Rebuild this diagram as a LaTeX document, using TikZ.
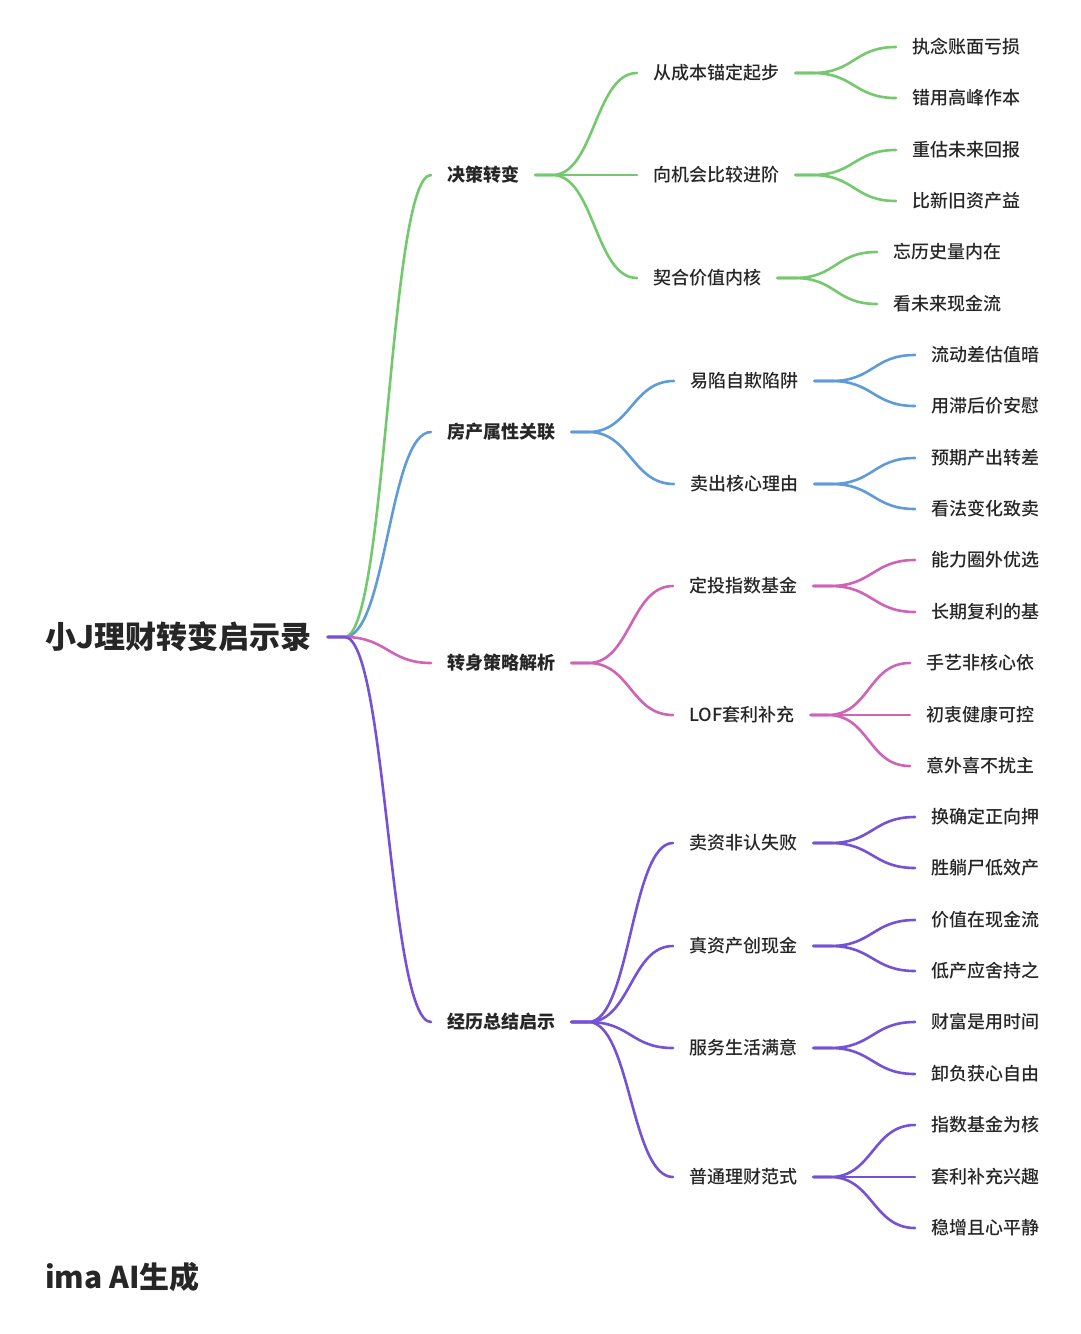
\documentclass[tikz,border=0pt]{standalone}
\usepackage{fontspec}
\setmainfont{Noto Sans CJK SC}
\newfontfamily\medfont{Noto Sans CJK SC Medium}
\usepackage{xcolor}
\usetikzlibrary{positioning}
\definecolor{mmgreen}{RGB}{116,201,110}
\definecolor{mmblue}{RGB}{95,155,216}
\definecolor{mmpink}{RGB}{208,98,184}
\definecolor{mmpurple}{RGB}{116,82,214}

\begin{document}
\begin{tikzpicture}[x=1pt,y=-1pt,
    every node/.style={inner sep=0pt,anchor=west,text=black!85},
    rootnode/.style={font=\fontsize{31}{31}\selectfont\bfseries},
    mainnode/.style={font=\fontsize{18}{18}\selectfont\bfseries},
    subnode/.style={font=\fontsize{18}{18}\selectfont\medfont},
    link/.style={line width=2.6pt,line cap=round}]
  \useasboundingbox (0,0) rectangle (1080,1334);

  % root and main branches
  \node[rootnode] (root) at (45,637) {小J理财转变启示录};
  \node[mainnode] (a) at (447,175)  {决策转变};
  \node[mainnode] (b) at (447,432)  {房产属性关联};
  \node[mainnode] (c) at (447,663)  {转身策略解析};
  \node[mainnode] (d) at (447,1022) {经历总结启示};

  % second level
  \node[subnode] (a1) at (653,73)   {从成本锚定起步};
  \node[subnode] (a2) at (653,175)  {向机会比较进阶};
  \node[subnode] (a3) at (653,278)  {契合价值内核};
  \node[subnode] (b1) at (690,381)  {易陷自欺陷阱};
  \node[subnode] (b2) at (690,484)  {卖出核心理由};
  \node[subnode] (c1) at (689,586)  {定投指数基金};
  \node[subnode] (c2) at (689,715)  {LOF套利补充};
  \node[subnode] (d1) at (689,843)  {卖资非认失败};
  \node[subnode] (d2) at (689,946)  {真资产创现金};
  \node[subnode] (d3) at (689,1048) {服务生活满意};
  \node[subnode] (d4) at (689,1177) {普通理财范式};

  % leaves
  \node[subnode] (a11) at (912,47)   {执念账面亏损};
  \node[subnode] (a12) at (912,98)   {错用高峰作本};
  \node[subnode] (a21) at (912,150)  {重估未来回报};
  \node[subnode] (a22) at (912,201)  {比新旧资产益};
  \node[subnode] (a31) at (893,252)  {忘历史量内在};
  \node[subnode] (a32) at (893,304)  {看未来现金流};
  \node[subnode] (b11) at (931,355)  {流动差估值暗};
  \node[subnode] (b12) at (931,406)  {用滞后价安慰};
  \node[subnode] (b21) at (931,458)  {预期产出转差};
  \node[subnode] (b22) at (931,509)  {看法变化致卖};
  \node[subnode] (c11) at (931,560)  {能力圈外优选};
  \node[subnode] (c12) at (931,612)  {长期复利的基};
  \node[subnode] (c21) at (926,663)  {手艺非核心依};
  \node[subnode] (c22) at (926,715)  {初衷健康可控};
  \node[subnode] (c23) at (926,766)  {意外喜不扰主};
  \node[subnode] (d11) at (931,817)  {换确定正向押};
  \node[subnode] (d12) at (931,868)  {胜躺尸低效产};
  \node[subnode] (d21) at (931,920)  {价值在现金流};
  \node[subnode] (d22) at (931,971)  {低产应舍持之};
  \node[subnode] (d31) at (931,1022) {财富是用时间};
  \node[subnode] (d32) at (931,1074) {卸负获心自由};
  \node[subnode] (d41) at (931,1125) {指数基金为核};
  \node[subnode] (d42) at (931,1177) {套利补充兴趣};
  \node[subnode] (d43) at (931,1228) {稳增且心平静};

  \node[rootnode,font=\fontsize{30}{30}\selectfont\bfseries] (mark) at (45,1277) {ima AI生成};

  % connectors: stub, then a curve to each child
  \foreach \k/\c in {a/mmgreen,b/mmblue,c/mmpink,d/mmpurple}
    \draw[link,\c] ([xshift=16]root.east) -- ([xshift=33]root.east)
      .. controls +(42,0) and +(-42,0) .. ([xshift=-16]\k.west);
  \foreach \p/\c/\kids in {a/mmgreen/{a1,a2,a3},b/mmblue/{b1,b2},
      c/mmpink/{c1,c2},d/mmpurple/{d1,d2,d3,d4}}
    \foreach \k in \kids
      \draw[link,\c] ([xshift=16]\p.east) -- ([xshift=33]\p.east)
        .. controls +(42,0) and +(-42,0) .. ([xshift=-16]\k.west);
  \foreach \p/\c/\n in {a1/mmgreen/2,a2/mmgreen/2,a3/mmgreen/2,
      b1/mmblue/2,b2/mmblue/2,c1/mmpink/2,c2/mmpink/3,
      d1/mmpurple/2,d2/mmpurple/2,d3/mmpurple/2,d4/mmpurple/3}
    \foreach \i in {1,...,\n}
      \draw[link,\c] ([xshift=16]\p.east) -- ([xshift=33]\p.east)
        .. controls +(42,0) and +(-42,0) .. ([xshift=-16]\p\i.west);
\end{tikzpicture}
\end{document}
